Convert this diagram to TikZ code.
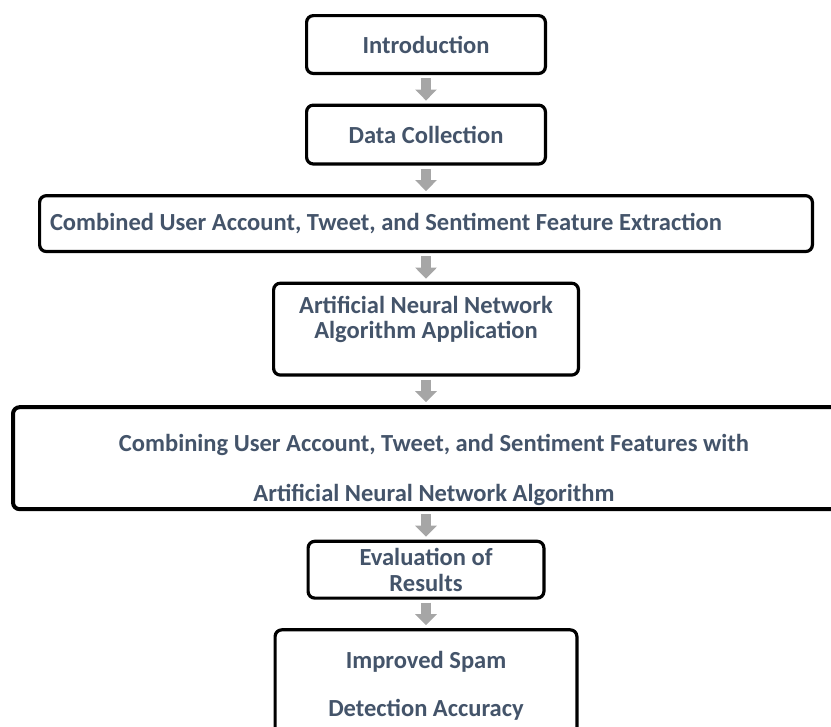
\documentclass[tikz,border=0pt]{standalone}
\usepackage{fontspec}
\setmainfont{Carlito}
\usetikzlibrary{positioning,arrows.meta}

\definecolor{boxtext}{HTML}{44546A}
\definecolor{arrowgray}{HTML}{A6A6A6}

\tikzset{
  stepbox/.style={draw, line width=2.4pt, rounded corners=5pt, fill=white,
    text=boxtext, font=\bfseries\fontsize{18.4}{19.5}\selectfont,
    align=center, inner sep=0pt},
  steptext/.style={text=boxtext, font=\bfseries\fontsize{18.4}{19}\selectfont,
    align=center, inner sep=0pt},
  flow/.style={arrowgray, line width=7.5pt,
    -{Triangle[width=15.75pt,length=8.25pt]},
    shorten <=2.25pt, shorten >=2.25pt}
}

\begin{document}
\begin{tikzpicture}[node distance=21.4pt]
  \useasboundingbox (0,0) rectangle (623.25pt,-544.5pt);

  \node (intro) [stepbox, minimum width=179.1pt, minimum height=43.35pt] at (319.5pt,-33.4pt) {Introduction};
  \node (data) [stepbox, minimum width=179.1pt, minimum height=44.1pt, below=of intro] {Data Collection};
  \node (extract) [stepbox, minimum width=579.6pt, minimum height=41.85pt, text width=564pt, align=flush left, below=of data] {Combined User Account, Tweet, and Sentiment Feature Extraction};
  \node (ann) [stepbox, minimum width=228.6pt, minimum height=68.85pt, below=of extract] {};
  \node (ann-text) [steptext] at ([yshift=7.5pt]ann.center) {Artificial Neural Network\\Algorithm Application};
  \node (combo) [stepbox, line width=3pt, minimum width=619.5pt, minimum height=76.5pt, below=of ann] {};
  \node (combo-text) [steptext, font=\bfseries\fontsize{18.4}{37.5}\selectfont] at ([xshift=6pt,yshift=-9pt]combo.center) {Combining User Account, Tweet, and Sentiment Features with\\Artificial Neural Network Algorithm};
  \node (eval) [stepbox, minimum width=176.85pt, minimum height=42.6pt, below=of combo] {Evaluation of\\Results};
  \node (spam) [stepbox, minimum width=226.35pt, minimum height=84pt, font=\bfseries\fontsize{18.4}{36}\selectfont, below=of eval] {Improved Spam\\Detection Accuracy};

  % gray block arrows between the steps
  \foreach \a/\b in {intro/data, data/extract, extract/ann, ann/combo, combo/eval, eval/spam}
    \draw[flow] (\a.south) -- (\b.north);
\end{tikzpicture}
\end{document}
